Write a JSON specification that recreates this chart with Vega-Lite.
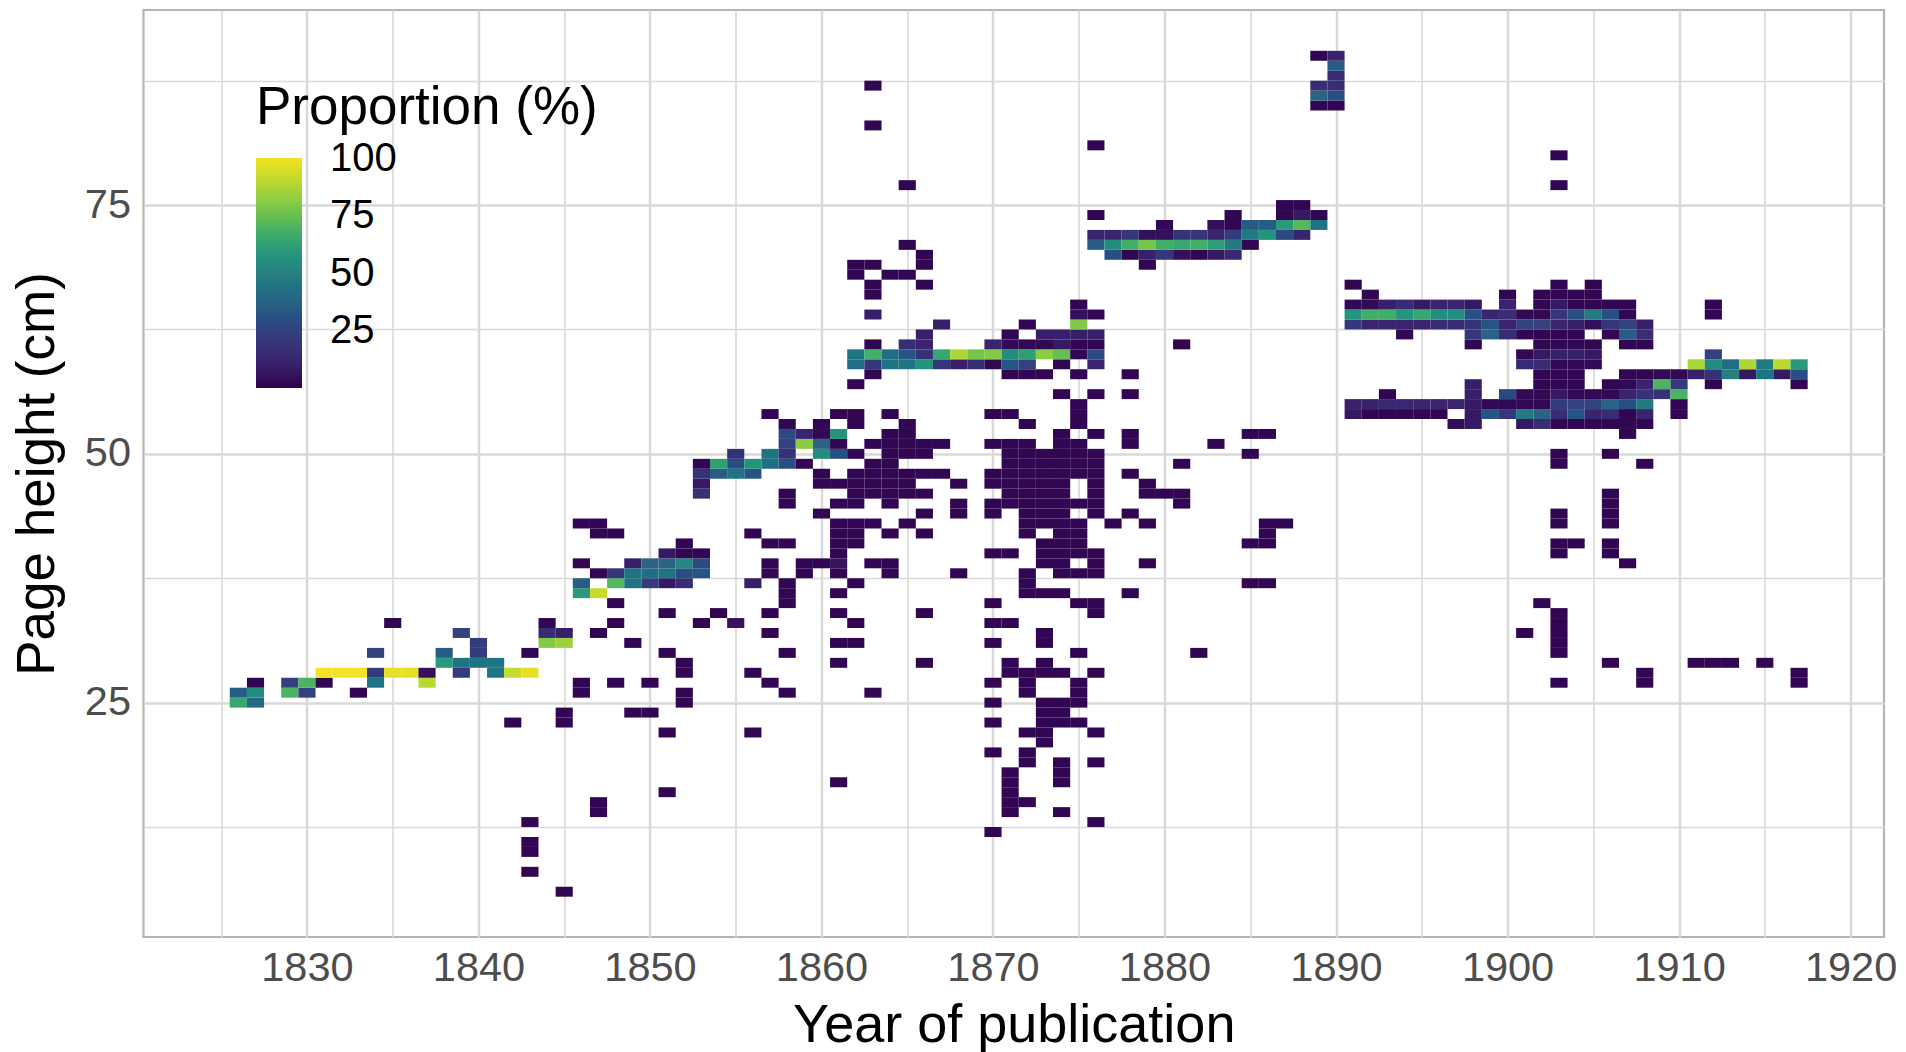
{"$schema":"https://vega.github.io/schema/vega-lite/v6.json","autosize":{"type":"none"},"padding":{"left":143.5,"top":10,"right":22,"bottom":115},"width":1740.5,"height":927,"background":"white","config":{"font":"Liberation Sans","view":{"stroke":"#b4b4b4","strokeWidth":2.2}},
"data":{"values":[
{"year":1845,"cm":6,"pct":2},{"year":1843,"cm":8,"pct":2},{"year":1843,"cm":10,"pct":2},{"year":1843,"cm":11,"pct":2},{"year":1870,"cm":12,"pct":2},{"year":1843,"cm":13,"pct":2},{"year":1876,"cm":13,"pct":2},
{"year":1847,"cm":14,"pct":2},{"year":1871,"cm":14,"pct":2},{"year":1874,"cm":14,"pct":2},{"year":1847,"cm":15,"pct":2},{"year":1871,"cm":15,"pct":2},{"year":1872,"cm":15,"pct":2},{"year":1851,"cm":16,"pct":2},{"year":1871,"cm":16,"pct":2},
{"year":1861,"cm":17,"pct":2},{"year":1871,"cm":17,"pct":2},{"year":1874,"cm":17,"pct":2},{"year":1871,"cm":18,"pct":2},{"year":1874,"cm":18,"pct":2},{"year":1872,"cm":19,"pct":2},{"year":1874,"cm":19,"pct":2},{"year":1876,"cm":19,"pct":2},
{"year":1870,"cm":20,"pct":2},{"year":1872,"cm":20,"pct":2},{"year":1873,"cm":21,"pct":2},{"year":1851,"cm":22,"pct":2},{"year":1856,"cm":22,"pct":2},{"year":1872,"cm":22,"pct":2},{"year":1873,"cm":22,"pct":2},{"year":1876,"cm":22,"pct":2},
{"year":1842,"cm":23,"pct":2},{"year":1845,"cm":23,"pct":2},{"year":1870,"cm":23,"pct":2},{"year":1873,"cm":23,"pct":2},{"year":1874,"cm":23,"pct":2},{"year":1875,"cm":23,"pct":2},
{"year":1845,"cm":24,"pct":2},{"year":1849,"cm":24,"pct":2},{"year":1850,"cm":24,"pct":2},{"year":1873,"cm":24,"pct":2},{"year":1874,"cm":24,"pct":2},
{"year":1826,"cm":25,"pct":65},{"year":1827,"cm":25,"pct":40},{"year":1852,"cm":25,"pct":2},{"year":1870,"cm":25,"pct":2},{"year":1873,"cm":25,"pct":2},{"year":1874,"cm":25,"pct":2},{"year":1875,"cm":25,"pct":2},
{"year":1826,"cm":26,"pct":35},{"year":1827,"cm":26,"pct":55},{"year":1829,"cm":26,"pct":70},{"year":1830,"cm":26,"pct":25},{"year":1833,"cm":26,"pct":2},{"year":1846,"cm":26,"pct":2},{"year":1852,"cm":26,"pct":2},{"year":1858,"cm":26,"pct":2},{"year":1863,"cm":26,"pct":2},{"year":1872,"cm":26,"pct":2},{"year":1875,"cm":26,"pct":2},
{"year":1827,"cm":27,"pct":2},{"year":1829,"cm":27,"pct":25},{"year":1830,"cm":27,"pct":70},{"year":1831,"cm":27,"pct":2},{"year":1834,"cm":27,"pct":45},{"year":1837,"cm":27,"pct":90},{"year":1846,"cm":27,"pct":2},{"year":1848,"cm":27,"pct":2},{"year":1850,"cm":27,"pct":2},{"year":1857,"cm":27,"pct":2},{"year":1870,"cm":27,"pct":2},{"year":1872,"cm":27,"pct":2},{"year":1875,"cm":27,"pct":2},{"year":1903,"cm":27,"pct":2},{"year":1908,"cm":27,"pct":2},{"year":1917,"cm":27,"pct":2},
{"year":1831,"cm":28,"pct":100},{"year":1832,"cm":28,"pct":100},{"year":1833,"cm":28,"pct":100},{"year":1834,"cm":28,"pct":22},{"year":1835,"cm":28,"pct":98},{"year":1836,"cm":28,"pct":98},{"year":1837,"cm":28,"pct":5},{"year":1839,"cm":28,"pct":22},{"year":1841,"cm":28,"pct":45},{"year":1842,"cm":28,"pct":92},{"year":1843,"cm":28,"pct":98},{"year":1852,"cm":28,"pct":2},{"year":1856,"cm":28,"pct":2},{"year":1871,"cm":28,"pct":2},{"year":1872,"cm":28,"pct":2},{"year":1873,"cm":28,"pct":2},{"year":1874,"cm":28,"pct":2},{"year":1876,"cm":28,"pct":2},{"year":1908,"cm":28,"pct":2},{"year":1917,"cm":28,"pct":2},
{"year":1838,"cm":29,"pct":60},{"year":1839,"cm":29,"pct":45},{"year":1840,"cm":29,"pct":45},{"year":1841,"cm":29,"pct":45},{"year":1852,"cm":29,"pct":2},{"year":1861,"cm":29,"pct":2},{"year":1866,"cm":29,"pct":2},{"year":1871,"cm":29,"pct":2},{"year":1873,"cm":29,"pct":2},{"year":1906,"cm":29,"pct":2},{"year":1911,"cm":29,"pct":2},{"year":1912,"cm":29,"pct":2},{"year":1913,"cm":29,"pct":2},{"year":1915,"cm":29,"pct":2},
{"year":1834,"cm":30,"pct":25},{"year":1838,"cm":30,"pct":35},{"year":1840,"cm":30,"pct":22},{"year":1843,"cm":30,"pct":2},{"year":1851,"cm":30,"pct":2},{"year":1858,"cm":30,"pct":2},{"year":1875,"cm":30,"pct":2},{"year":1882,"cm":30,"pct":2},{"year":1903,"cm":30,"pct":2},
{"year":1840,"cm":31,"pct":22},{"year":1844,"cm":31,"pct":80},{"year":1845,"cm":31,"pct":85},{"year":1849,"cm":31,"pct":2},{"year":1861,"cm":31,"pct":2},{"year":1862,"cm":31,"pct":2},{"year":1870,"cm":31,"pct":2},{"year":1873,"cm":31,"pct":2},{"year":1903,"cm":31,"pct":2},
{"year":1839,"cm":32,"pct":25},{"year":1844,"cm":32,"pct":15},{"year":1845,"cm":32,"pct":10},{"year":1847,"cm":32,"pct":2},{"year":1857,"cm":32,"pct":2},{"year":1873,"cm":32,"pct":2},{"year":1901,"cm":32,"pct":2},{"year":1903,"cm":32,"pct":2},
{"year":1835,"cm":33,"pct":2},{"year":1844,"cm":33,"pct":2},{"year":1848,"cm":33,"pct":2},{"year":1853,"cm":33,"pct":2},{"year":1855,"cm":33,"pct":6},{"year":1862,"cm":33,"pct":2},{"year":1870,"cm":33,"pct":2},{"year":1871,"cm":33,"pct":2},{"year":1903,"cm":33,"pct":2},
{"year":1851,"cm":34,"pct":2},{"year":1854,"cm":34,"pct":2},{"year":1857,"cm":34,"pct":2},{"year":1861,"cm":34,"pct":2},{"year":1866,"cm":34,"pct":2},{"year":1876,"cm":34,"pct":2},{"year":1903,"cm":34,"pct":2},
{"year":1848,"cm":35,"pct":2},{"year":1858,"cm":35,"pct":2},{"year":1870,"cm":35,"pct":2},{"year":1875,"cm":35,"pct":2},{"year":1876,"cm":35,"pct":2},{"year":1902,"cm":35,"pct":2},
{"year":1846,"cm":36,"pct":60},{"year":1847,"cm":36,"pct":92},{"year":1858,"cm":36,"pct":2},{"year":1861,"cm":36,"pct":2},{"year":1872,"cm":36,"pct":2},{"year":1873,"cm":36,"pct":2},{"year":1874,"cm":36,"pct":2},{"year":1878,"cm":36,"pct":2},
{"year":1846,"cm":37,"pct":35},{"year":1848,"cm":37,"pct":72},{"year":1849,"cm":37,"pct":45},{"year":1850,"cm":37,"pct":22},{"year":1851,"cm":37,"pct":8},{"year":1852,"cm":37,"pct":15},{"year":1856,"cm":37,"pct":10},{"year":1858,"cm":37,"pct":2},{"year":1862,"cm":37,"pct":2},{"year":1872,"cm":37,"pct":2},{"year":1885,"cm":37,"pct":2},{"year":1886,"cm":37,"pct":2},
{"year":1847,"cm":38,"pct":2},{"year":1848,"cm":38,"pct":20},{"year":1849,"cm":38,"pct":45},{"year":1850,"cm":38,"pct":42},{"year":1851,"cm":38,"pct":45},{"year":1852,"cm":38,"pct":30},{"year":1853,"cm":38,"pct":32},{"year":1857,"cm":38,"pct":2},{"year":1859,"cm":38,"pct":2},{"year":1861,"cm":38,"pct":2},{"year":1864,"cm":38,"pct":2},{"year":1868,"cm":38,"pct":2},{"year":1872,"cm":38,"pct":2},{"year":1874,"cm":38,"pct":2},{"year":1875,"cm":38,"pct":2},{"year":1876,"cm":38,"pct":2},
{"year":1846,"cm":39,"pct":2},{"year":1849,"cm":39,"pct":10},{"year":1850,"cm":39,"pct":38},{"year":1851,"cm":39,"pct":38},{"year":1852,"cm":39,"pct":52},{"year":1853,"cm":39,"pct":28},{"year":1857,"cm":39,"pct":2},{"year":1859,"cm":39,"pct":2},{"year":1860,"cm":39,"pct":2},{"year":1861,"cm":39,"pct":6},{"year":1863,"cm":39,"pct":2},{"year":1864,"cm":39,"pct":2},{"year":1873,"cm":39,"pct":2},{"year":1874,"cm":39,"pct":2},{"year":1876,"cm":39,"pct":2},{"year":1879,"cm":39,"pct":2},{"year":1907,"cm":39,"pct":2},
{"year":1851,"cm":40,"pct":8},{"year":1852,"cm":40,"pct":2},{"year":1853,"cm":40,"pct":2},{"year":1861,"cm":40,"pct":2},{"year":1870,"cm":40,"pct":2},{"year":1871,"cm":40,"pct":2},{"year":1873,"cm":40,"pct":2},{"year":1874,"cm":40,"pct":2},{"year":1875,"cm":40,"pct":2},{"year":1876,"cm":40,"pct":2},{"year":1903,"cm":40,"pct":2},{"year":1906,"cm":40,"pct":2},
{"year":1852,"cm":41,"pct":2},{"year":1857,"cm":41,"pct":2},{"year":1858,"cm":41,"pct":2},{"year":1861,"cm":41,"pct":2},{"year":1862,"cm":41,"pct":2},{"year":1873,"cm":41,"pct":2},{"year":1874,"cm":41,"pct":2},{"year":1875,"cm":41,"pct":2},{"year":1885,"cm":41,"pct":2},{"year":1886,"cm":41,"pct":2},{"year":1903,"cm":41,"pct":2},{"year":1904,"cm":41,"pct":2},{"year":1906,"cm":41,"pct":2},
{"year":1847,"cm":42,"pct":2},{"year":1848,"cm":42,"pct":2},{"year":1856,"cm":42,"pct":2},{"year":1861,"cm":42,"pct":2},{"year":1862,"cm":42,"pct":2},{"year":1864,"cm":42,"pct":2},{"year":1866,"cm":42,"pct":2},{"year":1872,"cm":42,"pct":2},{"year":1874,"cm":42,"pct":2},{"year":1875,"cm":42,"pct":2},{"year":1886,"cm":42,"pct":2},
{"year":1846,"cm":43,"pct":2},{"year":1847,"cm":43,"pct":2},{"year":1861,"cm":43,"pct":2},{"year":1862,"cm":43,"pct":2},{"year":1863,"cm":43,"pct":2},{"year":1865,"cm":43,"pct":2},{"year":1872,"cm":43,"pct":2},{"year":1873,"cm":43,"pct":2},{"year":1874,"cm":43,"pct":2},{"year":1875,"cm":43,"pct":2},{"year":1877,"cm":43,"pct":2},{"year":1879,"cm":43,"pct":2},{"year":1886,"cm":43,"pct":2},{"year":1887,"cm":43,"pct":2},{"year":1903,"cm":43,"pct":2},{"year":1906,"cm":43,"pct":2},
{"year":1860,"cm":44,"pct":2},{"year":1866,"cm":44,"pct":2},{"year":1868,"cm":44,"pct":2},{"year":1870,"cm":44,"pct":2},{"year":1872,"cm":44,"pct":2},{"year":1873,"cm":44,"pct":2},{"year":1874,"cm":44,"pct":2},{"year":1876,"cm":44,"pct":2},{"year":1878,"cm":44,"pct":2},{"year":1903,"cm":44,"pct":2},{"year":1906,"cm":44,"pct":2},
{"year":1858,"cm":45,"pct":2},{"year":1861,"cm":45,"pct":2},{"year":1862,"cm":45,"pct":2},{"year":1864,"cm":45,"pct":2},{"year":1868,"cm":45,"pct":2},{"year":1870,"cm":45,"pct":2},{"year":1871,"cm":45,"pct":2},{"year":1872,"cm":45,"pct":2},{"year":1873,"cm":45,"pct":2},{"year":1874,"cm":45,"pct":2},{"year":1875,"cm":45,"pct":2},{"year":1876,"cm":45,"pct":2},{"year":1881,"cm":45,"pct":2},{"year":1906,"cm":45,"pct":2},
{"year":1853,"cm":46,"pct":18},{"year":1858,"cm":46,"pct":2},{"year":1862,"cm":46,"pct":2},{"year":1863,"cm":46,"pct":2},{"year":1864,"cm":46,"pct":2},{"year":1865,"cm":46,"pct":2},{"year":1866,"cm":46,"pct":2},{"year":1871,"cm":46,"pct":2},{"year":1872,"cm":46,"pct":2},{"year":1873,"cm":46,"pct":2},{"year":1874,"cm":46,"pct":2},{"year":1876,"cm":46,"pct":2},{"year":1879,"cm":46,"pct":2},{"year":1880,"cm":46,"pct":2},{"year":1881,"cm":46,"pct":2},{"year":1906,"cm":46,"pct":2},
{"year":1853,"cm":47,"pct":8},{"year":1860,"cm":47,"pct":2},{"year":1861,"cm":47,"pct":2},{"year":1862,"cm":47,"pct":2},{"year":1863,"cm":47,"pct":2},{"year":1864,"cm":47,"pct":2},{"year":1865,"cm":47,"pct":2},{"year":1868,"cm":47,"pct":2},{"year":1870,"cm":47,"pct":2},{"year":1871,"cm":47,"pct":2},{"year":1872,"cm":47,"pct":2},{"year":1873,"cm":47,"pct":2},{"year":1874,"cm":47,"pct":2},{"year":1876,"cm":47,"pct":2},{"year":1879,"cm":47,"pct":2},
{"year":1853,"cm":48,"pct":18},{"year":1854,"cm":48,"pct":35},{"year":1855,"cm":48,"pct":45},{"year":1856,"cm":48,"pct":32},{"year":1860,"cm":48,"pct":2},{"year":1862,"cm":48,"pct":2},{"year":1863,"cm":48,"pct":2},{"year":1864,"cm":48,"pct":2},{"year":1865,"cm":48,"pct":2},{"year":1866,"cm":48,"pct":2},{"year":1867,"cm":48,"pct":2},{"year":1870,"cm":48,"pct":2},{"year":1871,"cm":48,"pct":2},{"year":1872,"cm":48,"pct":2},{"year":1873,"cm":48,"pct":2},{"year":1874,"cm":48,"pct":2},{"year":1875,"cm":48,"pct":2},{"year":1876,"cm":48,"pct":2},{"year":1878,"cm":48,"pct":2},
{"year":1853,"cm":49,"pct":2},{"year":1854,"cm":49,"pct":62},{"year":1855,"cm":49,"pct":30},{"year":1856,"cm":49,"pct":58},{"year":1857,"cm":49,"pct":42},{"year":1858,"cm":49,"pct":30},{"year":1859,"cm":49,"pct":2},{"year":1863,"cm":49,"pct":2},{"year":1864,"cm":49,"pct":2},{"year":1871,"cm":49,"pct":2},{"year":1872,"cm":49,"pct":2},{"year":1873,"cm":49,"pct":2},{"year":1874,"cm":49,"pct":2},{"year":1875,"cm":49,"pct":2},{"year":1876,"cm":49,"pct":2},{"year":1881,"cm":49,"pct":2},{"year":1903,"cm":49,"pct":2},{"year":1908,"cm":49,"pct":2},
{"year":1855,"cm":50,"pct":18},{"year":1857,"cm":50,"pct":45},{"year":1858,"cm":50,"pct":18},{"year":1860,"cm":50,"pct":55},{"year":1861,"cm":50,"pct":30},{"year":1862,"cm":50,"pct":2},{"year":1864,"cm":50,"pct":2},{"year":1865,"cm":50,"pct":2},{"year":1866,"cm":50,"pct":2},{"year":1871,"cm":50,"pct":2},{"year":1872,"cm":50,"pct":2},{"year":1873,"cm":50,"pct":2},{"year":1874,"cm":50,"pct":2},{"year":1875,"cm":50,"pct":2},{"year":1876,"cm":50,"pct":2},{"year":1885,"cm":50,"pct":2},{"year":1903,"cm":50,"pct":2},{"year":1906,"cm":50,"pct":2},
{"year":1858,"cm":51,"pct":25},{"year":1859,"cm":51,"pct":82},{"year":1860,"cm":51,"pct":38},{"year":1861,"cm":51,"pct":2},{"year":1863,"cm":51,"pct":2},{"year":1864,"cm":51,"pct":2},{"year":1865,"cm":51,"pct":2},{"year":1866,"cm":51,"pct":2},{"year":1867,"cm":51,"pct":2},{"year":1870,"cm":51,"pct":2},{"year":1871,"cm":51,"pct":2},{"year":1872,"cm":51,"pct":2},{"year":1874,"cm":51,"pct":2},{"year":1875,"cm":51,"pct":2},{"year":1878,"cm":51,"pct":2},{"year":1883,"cm":51,"pct":2},
{"year":1858,"cm":52,"pct":28},{"year":1859,"cm":52,"pct":12},{"year":1860,"cm":52,"pct":3},{"year":1861,"cm":52,"pct":58},{"year":1864,"cm":52,"pct":2},{"year":1865,"cm":52,"pct":2},{"year":1874,"cm":52,"pct":2},{"year":1876,"cm":52,"pct":2},{"year":1878,"cm":52,"pct":2},{"year":1885,"cm":52,"pct":2},{"year":1886,"cm":52,"pct":2},{"year":1907,"cm":52,"pct":2},
{"year":1858,"cm":53,"pct":2},{"year":1860,"cm":53,"pct":2},{"year":1862,"cm":53,"pct":2},{"year":1865,"cm":53,"pct":2},{"year":1872,"cm":53,"pct":2},{"year":1875,"cm":53,"pct":2},{"year":1897,"cm":53,"pct":4},{"year":1898,"cm":53,"pct":8},{"year":1901,"cm":53,"pct":8},{"year":1902,"cm":53,"pct":15},{"year":1903,"cm":53,"pct":2},{"year":1904,"cm":53,"pct":2},{"year":1905,"cm":53,"pct":2},{"year":1906,"cm":53,"pct":2},{"year":1907,"cm":53,"pct":2},{"year":1908,"cm":53,"pct":2},
{"year":1857,"cm":54,"pct":2},{"year":1861,"cm":54,"pct":2},{"year":1862,"cm":54,"pct":2},{"year":1864,"cm":54,"pct":2},{"year":1870,"cm":54,"pct":2},{"year":1871,"cm":54,"pct":2},{"year":1875,"cm":54,"pct":2},{"year":1891,"cm":54,"pct":8},{"year":1892,"cm":54,"pct":2},{"year":1893,"cm":54,"pct":2},{"year":1894,"cm":54,"pct":2},{"year":1895,"cm":54,"pct":2},{"year":1896,"cm":54,"pct":2},{"year":1898,"cm":54,"pct":8},{"year":1899,"cm":54,"pct":32},{"year":1900,"cm":54,"pct":20},{"year":1901,"cm":54,"pct":48},{"year":1902,"cm":54,"pct":38},{"year":1903,"cm":54,"pct":15},{"year":1904,"cm":54,"pct":32},{"year":1905,"cm":54,"pct":12},{"year":1906,"cm":54,"pct":15},{"year":1907,"cm":54,"pct":2},{"year":1908,"cm":54,"pct":12},{"year":1910,"cm":54,"pct":2},
{"year":1875,"cm":55,"pct":2},{"year":1891,"cm":55,"pct":11},{"year":1892,"cm":55,"pct":11},{"year":1893,"cm":55,"pct":13},{"year":1894,"cm":55,"pct":13},{"year":1895,"cm":55,"pct":12},{"year":1896,"cm":55,"pct":12},{"year":1897,"cm":55,"pct":12},{"year":1898,"cm":55,"pct":8},{"year":1899,"cm":55,"pct":3},{"year":1900,"cm":55,"pct":3},{"year":1901,"cm":55,"pct":3},{"year":1902,"cm":55,"pct":3},{"year":1903,"cm":55,"pct":22},{"year":1904,"cm":55,"pct":25},{"year":1905,"cm":55,"pct":25},{"year":1906,"cm":55,"pct":38},{"year":1907,"cm":55,"pct":30},{"year":1908,"cm":55,"pct":48},{"year":1910,"cm":55,"pct":2},
{"year":1874,"cm":56,"pct":2},{"year":1876,"cm":56,"pct":2},{"year":1878,"cm":56,"pct":2},{"year":1893,"cm":56,"pct":2},{"year":1898,"cm":56,"pct":10},{"year":1900,"cm":56,"pct":28},{"year":1901,"cm":56,"pct":3},{"year":1902,"cm":56,"pct":3},{"year":1903,"cm":56,"pct":8},{"year":1904,"cm":56,"pct":3},{"year":1905,"cm":56,"pct":3},{"year":1906,"cm":56,"pct":3},{"year":1907,"cm":56,"pct":12},{"year":1908,"cm":56,"pct":18},{"year":1909,"cm":56,"pct":18},{"year":1910,"cm":56,"pct":70},
{"year":1862,"cm":57,"pct":2},{"year":1898,"cm":57,"pct":10},{"year":1902,"cm":57,"pct":2},{"year":1903,"cm":57,"pct":2},{"year":1904,"cm":57,"pct":2},{"year":1906,"cm":57,"pct":2},{"year":1907,"cm":57,"pct":3},{"year":1908,"cm":57,"pct":12},{"year":1909,"cm":57,"pct":70},{"year":1910,"cm":57,"pct":22},{"year":1912,"cm":57,"pct":2},{"year":1917,"cm":57,"pct":2},
{"year":1863,"cm":58,"pct":2},{"year":1871,"cm":58,"pct":2},{"year":1872,"cm":58,"pct":2},{"year":1873,"cm":58,"pct":2},{"year":1875,"cm":58,"pct":2},{"year":1878,"cm":58,"pct":2},{"year":1902,"cm":58,"pct":2},{"year":1903,"cm":58,"pct":2},{"year":1904,"cm":58,"pct":2},{"year":1907,"cm":58,"pct":2},{"year":1908,"cm":58,"pct":2},{"year":1909,"cm":58,"pct":3},{"year":1910,"cm":58,"pct":3},{"year":1911,"cm":58,"pct":10},{"year":1912,"cm":58,"pct":18},{"year":1913,"cm":58,"pct":50},{"year":1914,"cm":58,"pct":8},{"year":1915,"cm":58,"pct":45},{"year":1916,"cm":58,"pct":8},{"year":1917,"cm":58,"pct":30},
{"year":1862,"cm":59,"pct":42},{"year":1863,"cm":59,"pct":20},{"year":1864,"cm":59,"pct":45},{"year":1865,"cm":59,"pct":45},{"year":1866,"cm":59,"pct":58},{"year":1867,"cm":59,"pct":20},{"year":1868,"cm":59,"pct":10},{"year":1869,"cm":59,"pct":15},{"year":1870,"cm":59,"pct":3},{"year":1871,"cm":59,"pct":33},{"year":1872,"cm":59,"pct":25},{"year":1874,"cm":59,"pct":2},{"year":1876,"cm":59,"pct":12},{"year":1901,"cm":59,"pct":15},{"year":1902,"cm":59,"pct":15},{"year":1903,"cm":59,"pct":3},{"year":1904,"cm":59,"pct":3},{"year":1905,"cm":59,"pct":3},{"year":1911,"cm":59,"pct":88},{"year":1912,"cm":59,"pct":55},{"year":1913,"cm":59,"pct":42},{"year":1914,"cm":59,"pct":88},{"year":1915,"cm":59,"pct":48},{"year":1916,"cm":59,"pct":90},{"year":1917,"cm":59,"pct":60},
{"year":1862,"cm":60,"pct":45},{"year":1863,"cm":60,"pct":68},{"year":1864,"cm":60,"pct":42},{"year":1865,"cm":60,"pct":32},{"year":1866,"cm":60,"pct":18},{"year":1867,"cm":60,"pct":65},{"year":1868,"cm":60,"pct":88},{"year":1869,"cm":60,"pct":78},{"year":1870,"cm":60,"pct":80},{"year":1871,"cm":60,"pct":55},{"year":1872,"cm":60,"pct":62},{"year":1873,"cm":60,"pct":82},{"year":1874,"cm":60,"pct":75},{"year":1875,"cm":60,"pct":2},{"year":1876,"cm":60,"pct":28},{"year":1901,"cm":60,"pct":3},{"year":1902,"cm":60,"pct":8},{"year":1903,"cm":60,"pct":10},{"year":1904,"cm":60,"pct":10},{"year":1905,"cm":60,"pct":8},{"year":1912,"cm":60,"pct":25},
{"year":1863,"cm":61,"pct":2},{"year":1865,"cm":61,"pct":15},{"year":1866,"cm":61,"pct":12},{"year":1870,"cm":61,"pct":12},{"year":1871,"cm":61,"pct":3},{"year":1872,"cm":61,"pct":3},{"year":1873,"cm":61,"pct":3},{"year":1874,"cm":61,"pct":8},{"year":1875,"cm":61,"pct":2},{"year":1876,"cm":61,"pct":2},{"year":1881,"cm":61,"pct":2},{"year":1898,"cm":61,"pct":2},{"year":1902,"cm":61,"pct":2},{"year":1903,"cm":61,"pct":2},{"year":1904,"cm":61,"pct":2},{"year":1905,"cm":61,"pct":2},{"year":1907,"cm":61,"pct":2},{"year":1908,"cm":61,"pct":2},
{"year":1866,"cm":62,"pct":10},{"year":1871,"cm":62,"pct":2},{"year":1873,"cm":62,"pct":10},{"year":1874,"cm":62,"pct":10},{"year":1875,"cm":62,"pct":10},{"year":1876,"cm":62,"pct":10},{"year":1894,"cm":62,"pct":2},{"year":1898,"cm":62,"pct":20},{"year":1899,"cm":62,"pct":38},{"year":1900,"cm":62,"pct":15},{"year":1901,"cm":62,"pct":2},{"year":1902,"cm":62,"pct":2},{"year":1903,"cm":62,"pct":2},{"year":1904,"cm":62,"pct":2},{"year":1906,"cm":62,"pct":2},{"year":1907,"cm":62,"pct":35},{"year":1908,"cm":62,"pct":15},
{"year":1867,"cm":63,"pct":10},{"year":1872,"cm":63,"pct":2},{"year":1875,"cm":63,"pct":80},{"year":1891,"cm":63,"pct":20},{"year":1892,"cm":63,"pct":12},{"year":1893,"cm":63,"pct":12},{"year":1894,"cm":63,"pct":12},{"year":1895,"cm":63,"pct":12},{"year":1896,"cm":63,"pct":15},{"year":1897,"cm":63,"pct":15},{"year":1898,"cm":63,"pct":18},{"year":1899,"cm":63,"pct":32},{"year":1900,"cm":63,"pct":12},{"year":1901,"cm":63,"pct":25},{"year":1902,"cm":63,"pct":25},{"year":1903,"cm":63,"pct":12},{"year":1904,"cm":63,"pct":10},{"year":1905,"cm":63,"pct":5},{"year":1906,"cm":63,"pct":20},{"year":1907,"cm":63,"pct":25},{"year":1908,"cm":63,"pct":10},
{"year":1863,"cm":64,"pct":10},{"year":1875,"cm":64,"pct":5},{"year":1876,"cm":64,"pct":2},{"year":1891,"cm":64,"pct":58},{"year":1892,"cm":64,"pct":68},{"year":1893,"cm":64,"pct":68},{"year":1894,"cm":64,"pct":58},{"year":1895,"cm":64,"pct":65},{"year":1896,"cm":64,"pct":55},{"year":1897,"cm":64,"pct":55},{"year":1898,"cm":64,"pct":30},{"year":1899,"cm":64,"pct":12},{"year":1900,"cm":64,"pct":15},{"year":1901,"cm":64,"pct":3},{"year":1902,"cm":64,"pct":3},{"year":1903,"cm":64,"pct":20},{"year":1904,"cm":64,"pct":30},{"year":1905,"cm":64,"pct":48},{"year":1906,"cm":64,"pct":30},{"year":1907,"cm":64,"pct":2},{"year":1912,"cm":64,"pct":2},
{"year":1875,"cm":65,"pct":2},{"year":1891,"cm":65,"pct":3},{"year":1892,"cm":65,"pct":3},{"year":1893,"cm":65,"pct":10},{"year":1894,"cm":65,"pct":15},{"year":1895,"cm":65,"pct":8},{"year":1896,"cm":65,"pct":12},{"year":1897,"cm":65,"pct":12},{"year":1898,"cm":65,"pct":8},{"year":1900,"cm":65,"pct":12},{"year":1902,"cm":65,"pct":2},{"year":1903,"cm":65,"pct":8},{"year":1904,"cm":65,"pct":2},{"year":1905,"cm":65,"pct":2},{"year":1906,"cm":65,"pct":2},{"year":1907,"cm":65,"pct":2},{"year":1912,"cm":65,"pct":2},
{"year":1863,"cm":66,"pct":2},{"year":1892,"cm":66,"pct":2},{"year":1900,"cm":66,"pct":2},{"year":1902,"cm":66,"pct":2},{"year":1903,"cm":66,"pct":2},{"year":1904,"cm":66,"pct":2},{"year":1905,"cm":66,"pct":2},
{"year":1863,"cm":67,"pct":2},{"year":1866,"cm":67,"pct":2},{"year":1891,"cm":67,"pct":2},{"year":1903,"cm":67,"pct":2},{"year":1905,"cm":67,"pct":2},
{"year":1862,"cm":68,"pct":2},{"year":1864,"cm":68,"pct":2},{"year":1865,"cm":68,"pct":2},
{"year":1862,"cm":69,"pct":2},{"year":1863,"cm":69,"pct":2},{"year":1866,"cm":69,"pct":2},{"year":1879,"cm":69,"pct":2},
{"year":1866,"cm":70,"pct":2},{"year":1877,"cm":70,"pct":30},{"year":1878,"cm":70,"pct":2},{"year":1879,"cm":70,"pct":10},{"year":1880,"cm":70,"pct":20},{"year":1881,"cm":70,"pct":5},{"year":1882,"cm":70,"pct":2},{"year":1883,"cm":70,"pct":8},{"year":1884,"cm":70,"pct":14},
{"year":1865,"cm":71,"pct":2},{"year":1876,"cm":71,"pct":35},{"year":1877,"cm":71,"pct":55},{"year":1878,"cm":71,"pct":68},{"year":1879,"cm":71,"pct":78},{"year":1880,"cm":71,"pct":68},{"year":1881,"cm":71,"pct":65},{"year":1882,"cm":71,"pct":68},{"year":1883,"cm":71,"pct":62},{"year":1884,"cm":71,"pct":48},{"year":1885,"cm":71,"pct":2},
{"year":1876,"cm":72,"pct":12},{"year":1877,"cm":72,"pct":12},{"year":1878,"cm":72,"pct":20},{"year":1879,"cm":72,"pct":5},{"year":1880,"cm":72,"pct":5},{"year":1881,"cm":72,"pct":18},{"year":1882,"cm":72,"pct":20},{"year":1883,"cm":72,"pct":12},{"year":1884,"cm":72,"pct":22},{"year":1885,"cm":72,"pct":48},{"year":1886,"cm":72,"pct":58},{"year":1887,"cm":72,"pct":28},{"year":1888,"cm":72,"pct":12},
{"year":1880,"cm":73,"pct":2},{"year":1883,"cm":73,"pct":5},{"year":1884,"cm":73,"pct":2},{"year":1885,"cm":73,"pct":35},{"year":1886,"cm":73,"pct":35},{"year":1887,"cm":73,"pct":60},{"year":1888,"cm":73,"pct":72},{"year":1889,"cm":73,"pct":45},
{"year":1876,"cm":74,"pct":2},{"year":1884,"cm":74,"pct":2},{"year":1887,"cm":74,"pct":2},{"year":1888,"cm":74,"pct":8},{"year":1889,"cm":74,"pct":2},{"year":1887,"cm":75,"pct":2},{"year":1888,"cm":75,"pct":2},
{"year":1865,"cm":77,"pct":2},{"year":1903,"cm":77,"pct":2},{"year":1903,"cm":80,"pct":2},{"year":1876,"cm":81,"pct":2},{"year":1863,"cm":83,"pct":2},{"year":1863,"cm":87,"pct":2},
{"year":1889,"cm":85,"pct":2},{"year":1890,"cm":85,"pct":2},{"year":1889,"cm":86,"pct":38},{"year":1890,"cm":86,"pct":30},{"year":1889,"cm":87,"pct":15},{"year":1890,"cm":87,"pct":15},{"year":1890,"cm":88,"pct":15},{"year":1890,"cm":89,"pct":35},{"year":1889,"cm":90,"pct":2},{"year":1890,"cm":90,"pct":12}
]},
"mark":{"type":"rect","width":17.15,"height":9.95},
"encoding":{
"x":{"field":"year","type":"quantitative","scale":{"domain":[1820.47,1921.95],"nice":false,"zero":false},
"axis":{"values":[1825,1830,1835,1840,1845,1850,1855,1860,1865,1870,1875,1880,1885,1890,1895,1900,1905,1910,1915,1920],"labelExpr":"datum.value % 10 === 0 ? format(datum.value,'d') : ''","title":"Year of publication","titleFontSize":54,"titleFontWeight":"normal","titleColor":"#000000","labelFontSize":41.5,"labelColor":"#4d4d4d","labelPadding":10,"titlePadding":10,"ticks":false,"domain":false,"labelOverlap":false,"labelFlush":false,"grid":true,"gridColor":"#d9d9d9","gridWidth":{"condition":{"test":"datum.value % 10 === 0","value":2.5},"value":1.6}}},
"y":{"field":"cm","type":"quantitative","scale":{"domain":[1.45,94.6],"nice":false,"zero":false},
"axis":{"values":[12.5,25,37.5,50,62.5,75,87.5],"labelExpr":"datum.value % 25 === 0 ? format(datum.value,'d') : ''","title":"Page height (cm)","titleFontSize":53,"titleFontWeight":"normal","titleColor":"#000000","labelFontSize":41.5,"labelColor":"#4d4d4d","labelPadding":13,"titlePadding":20,"ticks":false,"domain":false,"labelOverlap":false,"grid":true,"gridColor":"#d9d9d9","gridWidth":{"condition":{"test":"datum.value % 25 === 0","value":2.5},"value":1.6}}},
"color":{"field":"pct","type":"quantitative","scale":{"domain":[0,100.5],"range":["#2f004c","#3a2670","#33417f","#2b6283","#2a8080","#34a073","#68c04f","#aed636","#f7e225"]},
"legend":{"title":"Proportion (%)","orient":"none","legendX":112.5,"legendY":72,"values":[25,50,75,100],"gradientLength":230,"gradientThickness":46,"gradientStrokeWidth":0,"titleFontSize":53,"titleFontWeight":"normal","titleColor":"#000000","titlePadding":23,"labelFontSize":40,"labelColor":"#000000","labelOffset":28,"titleLimit":500,"labelOverlap":false}}
}}
